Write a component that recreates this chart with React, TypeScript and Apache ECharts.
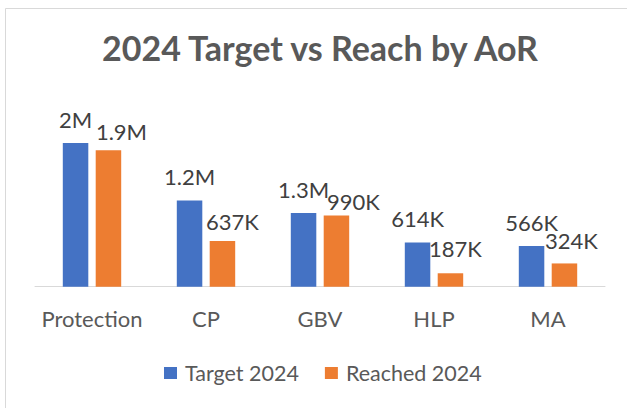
import React, { useEffect, useRef } from "react";
import * as echarts from "echarts";

const categories = ["Protection", "CP", "GBV", "HLP", "MA"];
const target2024 = [2000000, 1200000, 1025000, 614000, 566000];
const reached2024 = [1900000, 637000, 990000, 187000, 324000];
const targetLabels = ["2M", "1.2M", "1.3M", "614K", "566K"];
const reachedLabels = ["1.9M", "637K", "990K", "187K", "324K"];
const seriesNames = ["Target 2024", "Reached 2024"];
const titleText = "2024 Target vs Reach by AoR";

// label nudges (style only)
const reachedLabelOffsets = [[13, 5], [10, 5], [17, 10], [5, -1], [7, 1]];

const FONT = "Lato, 'Noto Sans', sans-serif";

export default function App() {
  const ref = useRef<HTMLDivElement>(null);
  useEffect(() => {
    if (!ref.current) return;
    const chart = echarts.init(ref.current, undefined, { renderer: "svg" });
    chart.setOption({
      animation: false,
      backgroundColor: "#ffffff",
      textStyle: { fontFamily: FONT },
      title: {
        text: titleText,
        left: 320,
        textAlign: "center",
        top: 30,
        padding: 0,
        textStyle: { fontFamily: FONT, fontSize: 34, fontWeight: "bold", color: "#595959" },
      },
      graphic: [
        {
          type: "rect",
          z: -10,
          shape: { x: 5.5, y: 8.5, width: 700, height: 500 },
          style: { fill: "none", stroke: "#d9d9d9", lineWidth: 1 },
        },
      ],
      legend: {
        data: seriesNames,
        left: 164,
        top: 362,
        padding: 0,
        itemWidth: 13,
        itemHeight: 12,
        itemGap: 26,
        icon: "rect",
        textStyle: { fontFamily: FONT, fontSize: 21.5, color: "#595959", padding: [0, 0, 0, 3] },
      },
      grid: { left: 35, right: 22, top: 107.2, bottom: 121.3, containLabel: false },
      xAxis: {
        type: "category",
        data: categories,
        axisLine: { show: true, lineStyle: { color: "#d9d9d9", width: 1 } },
        axisTick: { show: false },
        axisLabel: {
          interval: 0,
          hideOverlap: false,
          fontFamily: FONT,
          fontSize: 22,
          color: "#595959",
          margin: 21,
        },
      },
      yAxis: {
        type: "value",
        min: 0,
        max: 2500000,
        show: false,
        splitLine: { show: false },
      },
      series: [
        {
          name: seriesNames[0],
          type: "bar",
          barWidth: 25.5,
          barGap: "29%",
          itemStyle: { color: "#4472C4" },
          label: {
            show: true,
            position: "top",
            distance: 13,
            fontFamily: FONT,
            fontSize: 22,
            color: "#404040",
            formatter: (p: any) => targetLabels[p.dataIndex],
          },
          data: target2024,
        },
        {
          name: seriesNames[1],
          type: "bar",
          barWidth: 25.5,
          barGap: "29%",
          itemStyle: { color: "#ED7D31" },
          label: {
            show: true,
            position: "top",
            distance: 13,
            fontFamily: FONT,
            fontSize: 22,
            color: "#404040",
            formatter: (p: any) => reachedLabels[p.dataIndex],
          },
          data: reached2024.map((v, i) => ({
            value: v,
            label: { offset: reachedLabelOffsets[i] },
          })),
        },
      ],
    });
    return () => chart.dispose();
  }, []);
  return (
    <div
      ref={ref}
      style={{ position: "absolute", left: 0, top: 0, width: 627, height: 408, background: "#fff" }}
    />
  );
}
